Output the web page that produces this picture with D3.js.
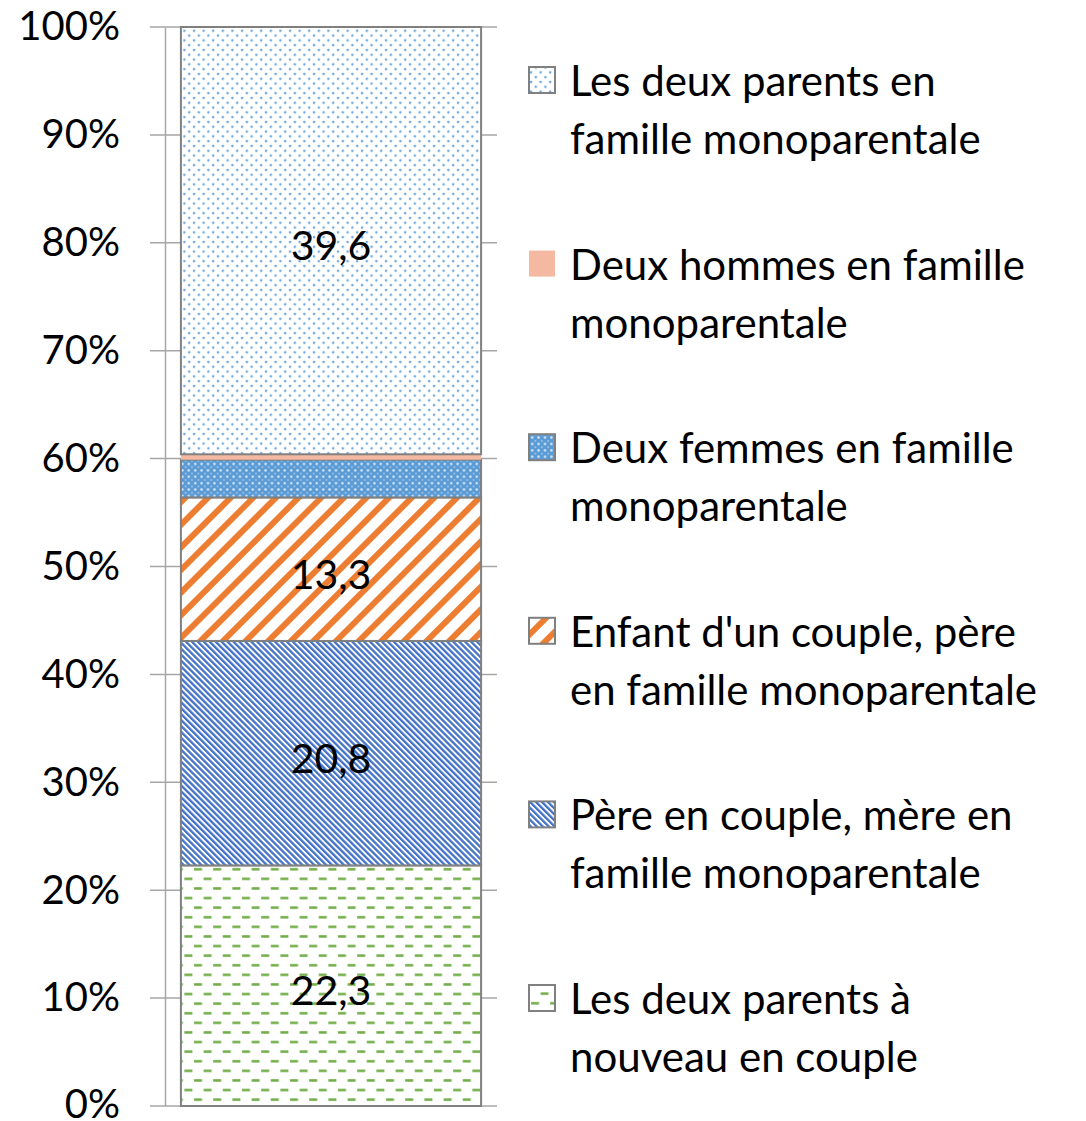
<!DOCTYPE html>
<html>
<head>
<meta charset="utf-8">
<script src="https://cdn.jsdelivr.net/npm/d3@7"></script>
<style>
  body { margin: 0; background: #fff; }
  svg text { font-family: Lato, "Open Sans", sans-serif; fill: #000; }
</style>
</head>
<body>
<div id="chart"></div>
<script>
// données (de bas en haut de la barre)
const series = [
  "Les deux parents à nouveau en couple",
  "Père en couple, mère en famille monoparentale",
  "Enfant d'un couple, père en famille monoparentale",
  "Deux femmes en famille monoparentale",
  "Deux hommes en famille monoparentale",
  "Les deux parents en famille monoparentale"
];
const values = [22.3, 20.8, 13.3, 3.5, 0.5, 39.6];
const valueLabels = ["22,3", "20,8", "13,3", "", "", "39,6"];
const legendLines = [
  ["Les deux parents à", "nouveau en couple"],
  ["Père en couple, mère en", "famille monoparentale"],
  ["Enfant d'un couple, père", "en famille monoparentale"],
  ["Deux femmes en famille", "monoparentale"],
  ["Deux hommes en famille", "monoparentale"],
  ["Les deux parents en", "famille monoparentale"]
];
const yTicks = [0, 10, 20, 30, 40, 50, 60, 70, 80, 90, 100];

const W = 1086, H = 1121;

const svg = d3.select("#chart").append("svg")
  .attr("width", W)
  .attr("height", H);

// motifs de remplissage
const defs = svg.append("defs");

// points bleus
const pDots = defs.append("pattern").attr("id", "p0")
  .attr("patternUnits", "userSpaceOnUse").attr("width", 9.6).attr("height", 9.6);
pDots.append("rect").attr("width", 9.6).attr("height", 9.6).attr("fill", "#fff");
pDots.append("circle").attr("cx", 2).attr("cy", 2).attr("r", 1.3).attr("fill", "#6fa8dc");
pDots.append("circle").attr("cx", 6.8).attr("cy", 6.8).attr("r", 1.3).attr("fill", "#6fa8dc");

// tirets verts
const pDash = defs.append("pattern").attr("id", "p5")
  .attr("patternUnits", "userSpaceOnUse").attr("width", 19.2).attr("height", 19.2);
pDash.append("rect").attr("width", 19.2).attr("height", 19.2).attr("fill", "#fff");
pDash.append("rect").attr("x", 2).attr("y", 4).attr("width", 8).attr("height", 2.5).attr("fill", "#70ad47");
pDash.append("rect").attr("x", 11.6).attr("y", 13.6).attr("width", 8).attr("height", 2.5).attr("fill", "#70ad47");
pDash.append("rect").attr("x", -7.6).attr("y", 13.6).attr("width", 8).attr("height", 2.5).attr("fill", "#70ad47");

// rayures bleues (\)
const pBlue = defs.append("pattern").attr("id", "p4")
  .attr("patternUnits", "userSpaceOnUse").attr("width", 4.2).attr("height", 4.2)
  .attr("patternTransform", "rotate(-45)");
pBlue.append("rect").attr("width", 4.2).attr("height", 4.2).attr("fill", "#fff");
pBlue.append("rect").attr("width", 2.3).attr("height", 4.2).attr("fill", "#4472c4");

// rayures orange (/)
const pOrange = defs.append("pattern").attr("id", "p3")
  .attr("patternUnits", "userSpaceOnUse").attr("width", 16).attr("height", 16)
  .attr("patternTransform", "rotate(45)");
pOrange.append("rect").attr("width", 16).attr("height", 16).attr("fill", "#fff");
pOrange.append("rect").attr("width", 6).attr("height", 16).attr("fill", "#ed7d31");

// quadrillage bleu
const pGrid = defs.append("pattern").attr("id", "p2")
  .attr("patternUnits", "userSpaceOnUse").attr("width", 6.4).attr("height", 6.4);
pGrid.append("rect").attr("width", 6.4).attr("height", 6.4).attr("fill", "#5b9bd5");
pGrid.append("circle").attr("cx", 3.2).attr("cy", 3.2).attr("r", 1.3).attr("fill", "#cfe2f3");
pGrid.append("circle").attr("cx", 0).attr("cy", 0).attr("r", 0.9).attr("fill", "#a9cbea");
pGrid.append("circle").attr("cx", 6.4).attr("cy", 0).attr("r", 0.9).attr("fill", "#a9cbea");
pGrid.append("circle").attr("cx", 0).attr("cy", 6.4).attr("r", 0.9).attr("fill", "#a9cbea");
pGrid.append("circle").attr("cx", 6.4).attr("cy", 6.4).attr("r", 0.9).attr("fill", "#a9cbea");

const fills = ["url(#p5)", "url(#p4)", "url(#p3)", "url(#p2)", "#f4b9a0", "url(#p0)"];
const strokes = ["#808080", "#808080", "#808080", "#808080", "none", "#808080"];

// échelles
const y = d3.scaleLinear().domain([0, 100]).range([1106, 27]);
const x = d3.scaleBand().domain(["total"]).range([165, 497])
  .paddingInner(0).paddingOuter(0.053);

// lignes de quadrillage / graduations
svg.append("g")
  .selectAll("line")
  .data(yTicks)
  .join("line")
  .attr("x1", 150).attr("x2", 497)
  .attr("y1", d => y(d)).attr("y2", d => y(d))
  .attr("stroke", "#a6a6a6")
  .attr("stroke-width", 1.5);

// axe y
const yAxis = svg.append("g")
  .attr("transform", "translate(165,0)")
  .call(d3.axisLeft(y).tickValues(yTicks).tickSize(0).tickPadding(45)
    .tickFormat(d => d + "%"));
yAxis.select(".domain").attr("stroke", "#a6a6a6").attr("stroke-width", 1.5);
yAxis.selectAll(".tick text")
  .style("font-family", "Lato, sans-serif")
  .style("font-size", "40px")
  .attr("fill", "#000");
yAxis.selectAll(".tick text").filter(d => d === 0).attr("dy", "0.28em");

// empilement
const row = {};
series.forEach((s, i) => row[s] = values[i]);
const stacked = d3.stack().keys(series)([row]);

svg.append("g")
  .selectAll("rect")
  .data(stacked)
  .join("rect")
  .attr("x", x("total"))
  .attr("width", x.bandwidth())
  .attr("y", d => y(d[0][1]))
  .attr("height", d => y(d[0][0]) - y(d[0][1]))
  .attr("fill", (d, i) => fills[i])
  .attr("stroke", (d, i) => strokes[i])
  .attr("stroke-width", 2);

// étiquettes de valeurs
svg.append("g")
  .selectAll("text")
  .data(stacked)
  .join("text")
  .attr("x", x("total") + x.bandwidth() / 2)
  .attr("y", d => y((d[0][0] + d[0][1]) / 2) + 4)
  .attr("text-anchor", "middle")
  .attr("dominant-baseline", "central")
  .style("font-size", "41px")
  .text((d, i) => valueLabels[i]);

// légende (ordre inversé)
const legendOrder = d3.range(series.length).reverse();
const ly = d3.scalePoint().domain(legendOrder).range([80, 998]);

const legend = svg.append("g")
  .selectAll("g")
  .data(legendOrder)
  .join("g")
  .attr("transform", i => `translate(529,${ly(i)})`);

legend.append("rect")
  .attr("x", 0).attr("y", -13)
  .attr("width", 26).attr("height", 26)
  .attr("fill", i => fills[i])
  .attr("stroke", i => strokes[i])
  .attr("stroke-width", 2);

legend.append("text")
  .attr("x", 41)
  .attr("dominant-baseline", "central")
  .style("font-size", "42px")
  .selectAll("tspan")
  .data(i => legendLines[i])
  .join("tspan")
  .attr("x", 41)
  .attr("y", (d, j) => j * 58)
  .text(d => d);
</script>
</body>
</html>
